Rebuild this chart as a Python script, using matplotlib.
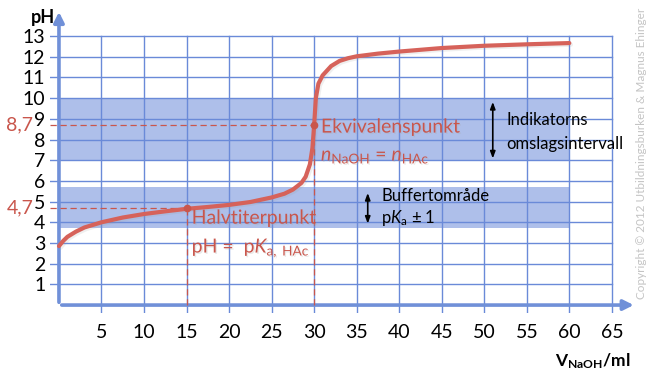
import matplotlib
matplotlib.use("Agg")
import matplotlib.pyplot as plt
import matplotlib.patheffects as pe

plt.rcParams['font.family'] = ['Lato', 'DejaVu Sans']
plt.rcParams['mathtext.fontset'] = 'custom'
plt.rcParams['mathtext.rm'] = 'Lato'
plt.rcParams['mathtext.it'] = 'Lato:italic'
plt.rcParams['mathtext.bf'] = 'Lato:bold'

# ---------------- data ----------------
v_naoh = [0, 0.5, 1, 2, 3, 5, 7.5, 10, 12.5, 15, 17.5, 20, 22.5, 25, 26.5, 27.5,
          28.5, 29, 29.5, 29.8, 30, 30.2, 30.5, 31, 32, 33, 34, 35, 37.5, 40,
          45, 50, 55, 60]
ph = [2.85, 3.1, 3.3, 3.55, 3.75, 4.0, 4.23, 4.4, 4.53, 4.65, 4.74, 4.84, 4.98,
      5.2, 5.38, 5.58, 5.9, 6.2, 6.8, 7.6, 8.7, 10.0, 10.7, 11.1, 11.55, 11.8,
      11.93, 12.02, 12.15, 12.25, 12.42, 12.53, 12.6, 12.66]

x_ticks = [5, 10, 15, 20, 25, 30, 35, 40, 45, 50, 55, 60, 65]
y_ticks = [1, 2, 3, 4, 5, 6, 7, 8, 9, 10, 11, 12, 13]

half_point = (15, 4.7)
equiv_point = (30, 8.7)
indicator_band = (7, 10)
buffer_band = (3.7, 5.7)
band_end = 60

# ---------------- styles ----------------
grid_c = '#6A8AD8'
axis_c = '#7090D8'
band_c = '#AEBFEA'
curve_c = '#D6625A'
red_c = '#C9564C'

fig = plt.figure(figsize=(6.51, 3.84), dpi=100)
ax = fig.add_axes([0.0762, 0.184, 0.983 - 0.0762, 0.987 - 0.184])
ax.set_xlim(-1.1, 68.3)
ax.set_ylim(-0.4, 14.5)
for s in ax.spines.values():
    s.set_visible(False)

# bands
ax.fill_between([0, band_end], indicator_band[0], indicator_band[1], color=band_c, lw=0, zorder=1)
ax.fill_between([0, band_end], buffer_band[0], buffer_band[1], color=band_c, lw=0, zorder=1)

# grid
for x in x_ticks:
    ax.plot([x, x], [-0.35, y_ticks[-1]], color=grid_c, lw=1.0, zorder=2)
for y in y_ticks:
    ax.plot([-1.1, x_ticks[-1]], [y, y], color=grid_c, lw=1.0, zorder=2)

# axes with arrows
ax.annotate('', xy=(67.9, 0), xytext=(0, 0),
            arrowprops=dict(arrowstyle='-|>,head_length=0.6,head_width=0.3', color=axis_c, lw=2.6), zorder=3)
ax.annotate('', xy=(0, 14.3), xytext=(0, 0),
            arrowprops=dict(arrowstyle='-|>,head_length=0.6,head_width=0.3', color=axis_c, lw=2.6), zorder=3)

# dashed guide lines
dash = dict(color=red_c, lw=0.9, ls=(0, (5, 3)), zorder=4)
ax.plot([-1.1, equiv_point[0]], [equiv_point[1]] * 2, **dash)
ax.plot([-1.1, half_point[0]], [half_point[1]] * 2, **dash)
ax.plot([equiv_point[0]] * 2, [0, equiv_point[1]], **dash)
ax.plot([half_point[0]] * 2, [0, half_point[1]], **dash)

# titration curve
ax.plot(v_naoh, ph, color=curve_c, lw=3.0, solid_capstyle='round', zorder=5,
        path_effects=[pe.SimpleLineShadow(offset=(1.2, -1.2), shadow_color='#999999', alpha=0.15),
                      pe.Normal()])
ax.plot(*half_point, 'o', color=red_c, ms=4.5, zorder=6)
ax.plot(*equiv_point, 'o', color=red_c, ms=4.5, zorder=6)

# ticks
ax.set_xticks(x_ticks)
ax.set_yticks(y_ticks)
ax.tick_params(length=0, labelsize=14)
ax.tick_params(axis='x', pad=8)
ax.tick_params(axis='y', pad=3)

ax.text(-3.0, 8.7, '8,7', color=red_c, fontsize=14, ha='right', va='center', zorder=7)
ax.text(-3.0, 4.7, '4,7', color=red_c, fontsize=14, ha='right', va='center', zorder=7)

# axis titles
fig.text(0.047, 0.955, 'pH', fontsize=13, fontweight='bold', ha='left', va='center')
fig.text(0.853, 0.06, r'$\mathbf{V_{NaOH}/ml}$', fontsize=12.5, ha='left', va='center')

# red annotations
shadow = [pe.withSimplePatchShadow(offset=(1, -1), shadow_rgbFace='#aaaaaa', alpha=0.25)]
ax.text(30.8, 8.6, 'Ekvivalenspunkt', color=red_c, fontsize=14, va='center', zorder=7, path_effects=shadow)
ax.text(30.8, 7.15, r'$n_{\mathrm{NaOH}}$ = $n_{\mathrm{HAc}}$', color=red_c, fontsize=14,
        va='center', zorder=7, path_effects=shadow)
ax.text(15.6, 4.2, 'Halvtiterpunkt', color=red_c, fontsize=14, va='center', zorder=7, path_effects=shadow)
ax.text(15.6, 2.75, r'pH =  p$K_{\mathrm{a,\ HAc}}$', color=red_c, fontsize=14,
        va='center', zorder=7, path_effects=shadow)

# black annotations
arr = dict(arrowstyle='<|-|>,head_length=0.4,head_width=0.15', color='black', lw=1.2)
ax.annotate('', xy=(51.0, 9.95), xytext=(51.0, 6.95), arrowprops=arr, zorder=7)
ax.annotate('', xy=(36.3, 5.55), xytext=(36.3, 3.8), arrowprops=arr, zorder=7)
ax.text(52.6, 8.95, 'Indikatorns', fontsize=12, va='center', zorder=7)
ax.text(52.6, 7.8, 'omslagsintervall', fontsize=12, va='center', zorder=7)
ax.text(37.9, 5.25, 'Buffertområde', fontsize=12, va='center', zorder=7)
ax.text(37.9, 4.2, r'p$K_{\mathrm{a}}$ ± 1', fontsize=12, va='center', zorder=7)

fig.text(0.985, 0.6, 'Copyright © 2012 Utbildningsburken & Magnus Ehinger', fontsize=8.5,
         color='#C4C4C4', rotation=90, ha='center', va='center')

fig.savefig('out.png', dpi=100)
